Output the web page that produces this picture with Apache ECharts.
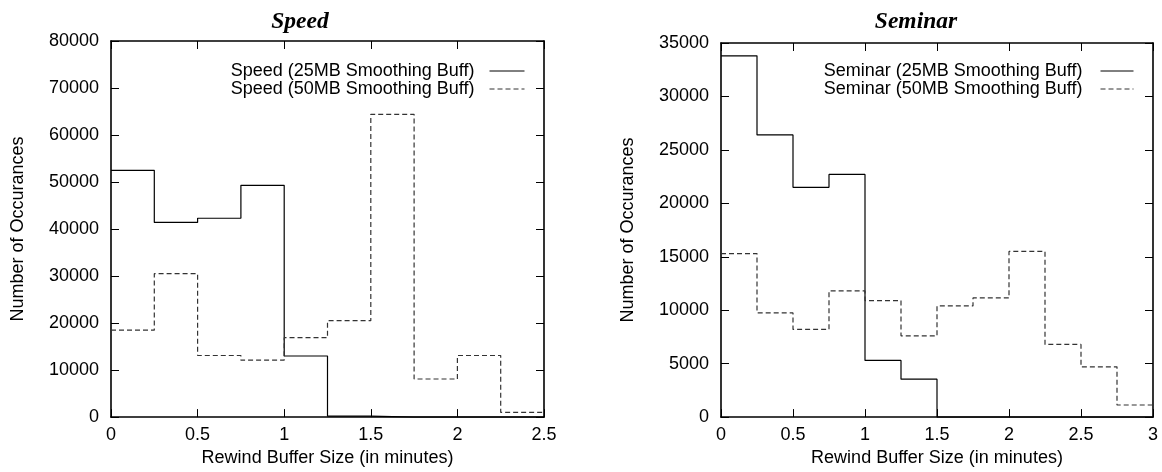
<!DOCTYPE html>
<html>
<head>
<meta charset="utf-8">
<script src="https://cdn.jsdelivr.net/npm/echarts@6/dist/echarts.min.js"></script>
<style>
  html, body { margin: 0; padding: 0; background: #fff; }
  #chart { width: 1162px; height: 472px; }
</style>
</head>
<body>
<div id="chart"></div>
<script>
// Histogram bin edges (minutes of rewind buffer) and counts per bin
const speedEdges = [0, 0.25, 0.5, 0.75, 1.0, 1.25, 1.5, 1.75, 2.0, 2.25, 2.5];
const speed25 = [52500, 41400, 42300, 49300, 13000, 200, 0, 0, 0, 0];
const speed50 = [18500, 30500, 13100, 12100, 16900, 20500, 64400, 8100, 13100, 1000];

const seminarEdges = [0, 0.25, 0.5, 0.75, 1.0, 1.25, 1.5, 1.75, 2.0, 2.25, 2.5, 2.75, 3.0];
const seminar25 = [33800, 26400, 21500, 22700, 5300, 3550, 0, 0, 0, 0, 0, 0];
const seminar50 = [15300, 9750, 8200, 11800, 10900, 7600, 10400, 11150, 15500, 6800, 4700, 1130];

const speedNames = ['Speed (25MB Smoothing Buff)', 'Speed (50MB Smoothing Buff)'];
const seminarNames = ['Seminar (25MB Smoothing Buff)', 'Seminar (50MB Smoothing Buff)'];

const speedAxis = { xMax: 2.5, xStep: 0.5, yMax: 80000, yStep: 10000 };
const seminarAxis = { xMax: 3, xStep: 0.5, yMax: 35000, yStep: 5000 };

// Step points: one per bin edge, last edge repeats the final bin's count
function stepData(edges, counts) {
  return edges.map((x, i) => [x, counts[Math.min(i, counts.length - 1)]]);
}

const FONT = 'Liberation Sans, Arial, sans-serif';
const FS = 18;
const AXIS_LINE = { show: true, onZero: false, lineStyle: { color: '#000', width: 1.6 } };
const TICK = { show: true, inside: true, length: 8, lineStyle: { color: '#000', width: 1 } };

function axesFor(gridIndex, ax) {
  const xs = [
    {
      type: 'value', gridIndex, min: 0, max: ax.xMax, interval: ax.xStep, position: 'bottom',
      name: 'Rewind Buffer Size (in minutes)', nameLocation: 'middle', nameGap: 28,
      nameTextStyle: { fontFamily: FONT, fontSize: FS, color: '#000' },
      axisLine: AXIS_LINE, axisTick: TICK, splitLine: { show: false },
      axisLabel: { fontFamily: FONT, fontSize: FS, color: '#000', margin: 9, formatter: v => String(v) }
    },
    {
      type: 'value', gridIndex, min: 0, max: ax.xMax, interval: ax.xStep, position: 'top',
      axisLine: AXIS_LINE, axisTick: TICK, splitLine: { show: false }, axisLabel: { show: false }
    }
  ];
  const ys = [
    {
      type: 'value', gridIndex, min: 0, max: ax.yMax, interval: ax.yStep, position: 'left',
      name: 'Number of Occurances', nameLocation: 'middle', nameGap: 84, nameRotate: 90,
      nameTextStyle: { fontFamily: FONT, fontSize: FS, color: '#000' },
      axisLine: AXIS_LINE, axisTick: TICK, splitLine: { show: false },
      axisLabel: { fontFamily: FONT, fontSize: FS, color: '#000', margin: 12, formatter: v => String(v) }
    },
    {
      type: 'value', gridIndex, min: 0, max: ax.yMax, interval: ax.yStep, position: 'right',
      axisLine: AXIS_LINE, axisTick: TICK, splitLine: { show: false }, axisLabel: { show: false }
    }
  ];
  return { xs, ys };
}

const a0 = axesFor(0, speedAxis);
const a1 = axesFor(1, seminarAxis);

function stepSeries(name, data, xi, yi, dashed) {
  const color = dashed ? '#333' : '#000';
  return {
    name, type: 'line', step: 'end', symbol: 'none', xAxisIndex: xi, yAxisIndex: yi,
    data, animation: false, z: 3, color,
    itemStyle: { color },
    lineStyle: dashed ? { color, width: 1.2, type: [5, 3] } : { color, width: 1.2, type: 'solid' }
  };
}

function legendAt(names, right, top, width, gap) {
  return {
    data: names, right, top,
    orient: 'vertical', align: 'right', itemWidth: width, itemHeight: 14, itemGap: 0,
    itemStyle: { opacity: 0 },
    lineStyle: { width: 1 },
    textStyle: { fontFamily: FONT, fontSize: FS, color: '#000', padding: [0, gap, 0, 0] }
  };
}

const TITLE_STYLE = { fontFamily: 'Liberation Serif, Times New Roman, serif', fontStyle: 'italic', fontWeight: 'bold', fontSize: 23.5, color: '#000' };

const option = {
  animation: false,
  backgroundColor: '#fff',
  title: [
    { text: 'Speed', left: 295, top: 5, textAlign: 'center', textStyle: TITLE_STYLE },
    { text: 'Seminar', left: 911, top: 5, textAlign: 'center', textStyle: TITLE_STYLE }
  ],
  legend: [
    legendAt(speedNames, 632, 57, 35, 10),
    legendAt(seminarNames, 23, 57, 33, 13)
  ],
  grid: [
    { left: 111, top: 41, width: 433, height: 380 },
    { left: 721, top: 43, width: 432, height: 380 }
  ],
  xAxis: [a0.xs[0], a0.xs[1], a1.xs[0], a1.xs[1]],
  yAxis: [a0.ys[0], a0.ys[1], a1.ys[0], a1.ys[1]],
  series: [
    stepSeries(speedNames[0], stepData(speedEdges, speed25), 0, 0, false),
    stepSeries(speedNames[1], stepData(speedEdges, speed50), 0, 0, true),
    stepSeries(seminarNames[0], stepData(seminarEdges, seminar25), 2, 2, false),
    stepSeries(seminarNames[1], stepData(seminarEdges, seminar50), 2, 2, true)
  ]
};

const chart = echarts.init(document.getElementById('chart'), null, { renderer: 'canvas' });
chart.setOption(option);
</script>
</body>
</html>
